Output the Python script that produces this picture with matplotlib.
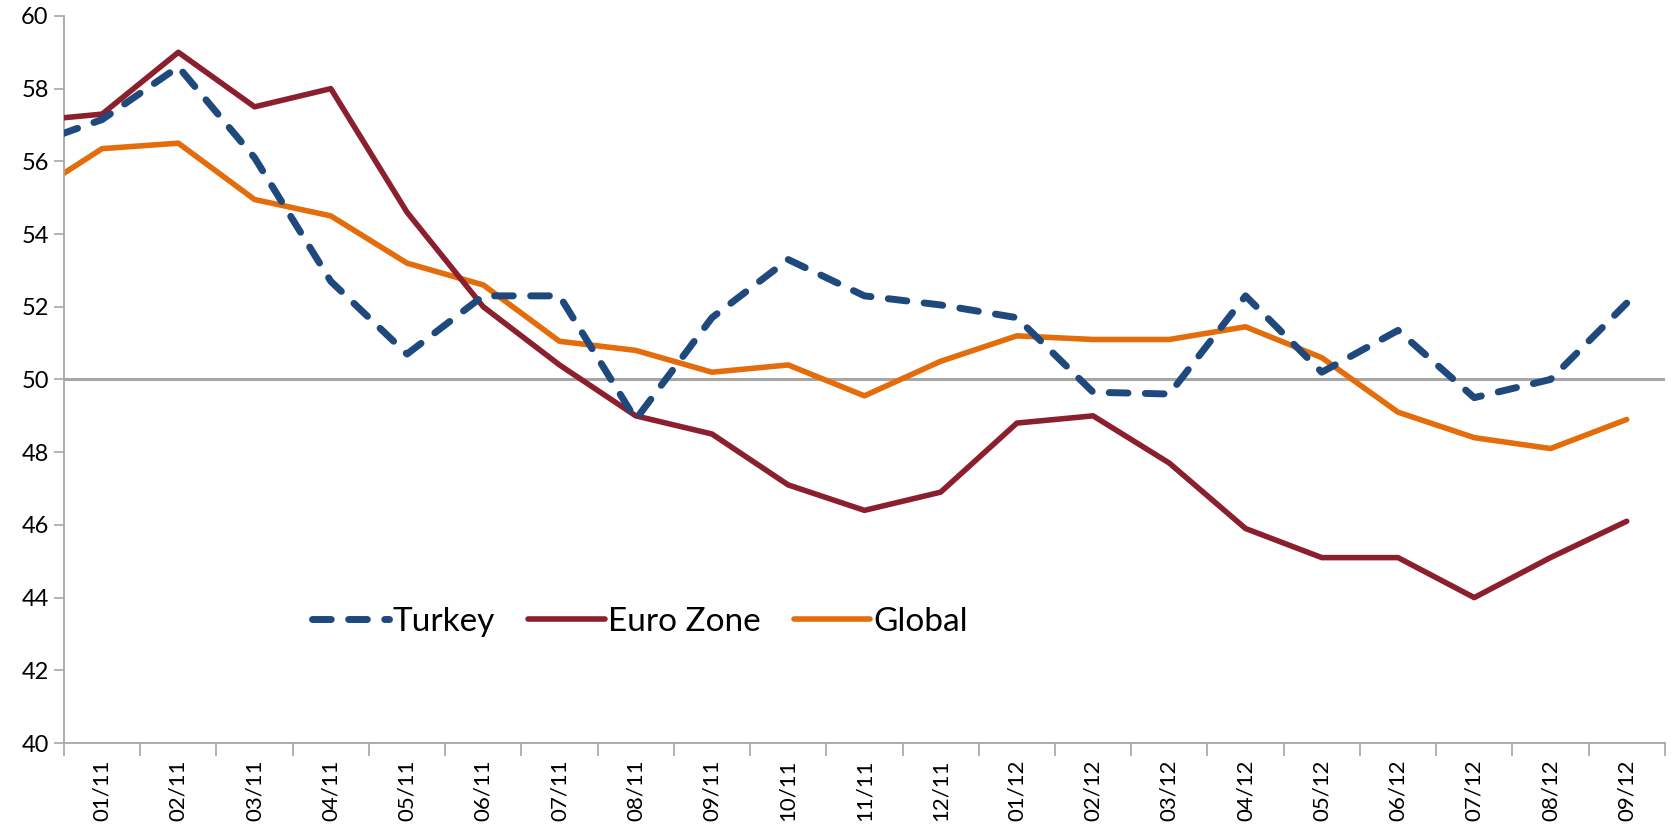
"""PMI comparison: Turkey vs Euro Zone vs Global, 01/11 - 09/12"""
import matplotlib

matplotlib.use("Agg")
import matplotlib.pyplot as plt
import numpy as np

# months (the first point, 12/10, sits just left of the axis and is clipped)
months = ["12/10", "01/11", "02/11", "03/11", "04/11", "05/11", "06/11", "07/11",
          "08/11", "09/11", "10/11", "11/11", "12/11", "01/12", "02/12", "03/12",
          "04/12", "05/12", "06/12", "07/12", "08/12", "09/12"]

turkey = [56.4, 57.15, 58.6, 56.1, 52.7, 50.7, 52.3, 52.3, 48.9, 51.7, 53.3,
          52.3, 52.05, 51.7, 49.65, 49.6, 52.3, 50.2, 51.35, 49.5, 50.0, 52.1]
euro_zone = [57.1, 57.3, 59.0, 57.5, 58.0, 54.6, 52.0, 50.4, 49.0, 48.5, 47.1,
             46.4, 46.9, 48.8, 49.0, 47.7, 45.9, 45.1, 45.1, 44.0, 45.1, 46.1]
global_pmi = [55.0, 56.35, 56.5, 54.95, 54.5, 53.2, 52.6, 51.05, 50.8, 50.2, 50.4,
              49.55, 50.5, 51.2, 51.1, 51.1, 51.45, 50.6, 49.1, 48.4, 48.1, 48.9]

plt.rcParams["font.family"] = ["Lato", "DejaVu Sans"]

fig = plt.figure(figsize=(16.71, 8.30), dpi=100)
ax = fig.add_axes([0.0383, 0.1048, 0.958, 0.876])

x = np.arange(len(months)) - 1  # 01/11 -> 0

axis_grey = "#A6A6A6"
ax.axhline(50, color=axis_grey, lw=2.2, zorder=1)

ax.plot(x, turkey, color="#1F497D", lw=5, dashes=(2.7, 2.5),
        dash_capstyle="round", solid_capstyle="round", label="Turkey", zorder=4)
ax.plot(x, euro_zone, color="#8B1F2E", lw=4, solid_capstyle="round",
        label="Euro Zone", zorder=3)
ax.plot(x, global_pmi, color="#E46C0A", lw=4, solid_capstyle="round",
        label="Global", zorder=2)

ax.set_xlim(-0.5, len(months) - 1.5)
ax.set_ylim(40, 60)
ax.set_yticks(range(40, 61, 2))

ax.set_xticks(x[1:])
ax.set_xticklabels(months[1:], rotation=90, fontsize=16)
ax.set_xticks(np.arange(-0.5, len(months) - 1, 1.0), minor=True)
ax.tick_params(axis="x", which="major", length=0, pad=12)
ax.tick_params(axis="x", which="minor", length=9, color=axis_grey, width=1.2)
ax.tick_params(axis="y", length=7, color=axis_grey, width=1.2, labelsize=17, pad=4)

for side in ("top", "right"):
    ax.spines[side].set_visible(False)
for side in ("left", "bottom"):
    ax.spines[side].set_color(axis_grey)
    ax.spines[side].set_linewidth(1.3)

ax.legend(loc="center", bbox_to_anchor=(0.36, 0.167), ncol=3, frameon=False,
          fontsize=24, handlelength=2.3, handletextpad=0.1, columnspacing=1.0)

fig.savefig("out.png", dpi=100)
